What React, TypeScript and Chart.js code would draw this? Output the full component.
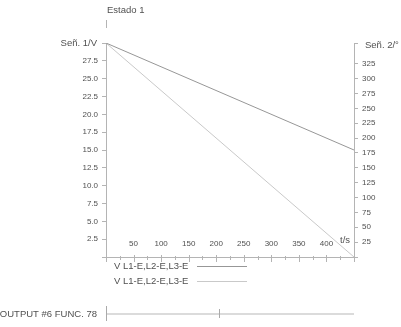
import React, { useEffect, useRef } from "react";
import { Chart, registerables } from "chart.js";

Chart.register(...registerables);

const times = [0, 450];
const signal1 = [30, 15];
const signal2 = [360, 0];
const seriesLabels = ["V L1-E,L2-E,L3-E", "V L1-E,L2-E,L3-E"];
const seriesColors = ["#979797", "#c9c9c9"];
const xTickValues = [50, 100, 150, 200, 250, 300, 350, 400];
const outputMarks = [205];
const titleText = "Estado 1";
const leftTitle = "Señ. 1/V";
const rightTitle = "Señ. 2/°";
const xTitle = "t/s";
const outputLabel = "OUTPUT #6 FUNC. 78";

const FONT = "'Liberation Sans', Arial, sans-serif";
const TEXT = "#505050";
const AXIS = "#b4b4b4";

const extras = {
  id: "extras",
  afterDraw(chart: any) {
    const ctx = chart.ctx;
    const a = chart.chartArea;
    const xs = chart.scales.x;
    ctx.save();
    // x axis line
    ctx.strokeStyle = AXIS;
    ctx.lineWidth = 1;
    ctx.beginPath();
    ctx.moveTo(a.left, a.bottom + 0.5);
    ctx.lineTo(a.right, a.bottom + 0.5);
    ctx.stroke();
    for (let v = 0; v <= 450; v += 25) {
      const px = Math.round(xs.getPixelForValue(v)) + 0.5;
      const major = v % 50 === 0;
      ctx.beginPath();
      ctx.moveTo(px, a.bottom - (major ? 2 : 1));
      ctx.lineTo(px, a.bottom + (major ? 5 : 3));
      ctx.stroke();
    }
    ctx.fillStyle = TEXT;
    ctx.font = `8px ${FONT}`;
    ctx.textAlign = "center";
    ctx.textBaseline = "middle";
    xTickValues.forEach((v) => {
      ctx.fillText(String(v), xs.getPixelForValue(v), a.bottom - 13);
    });
    ctx.font = `9.5px ${FONT}`;
    ctx.fillText(xTitle, xs.getPixelForValue(450) - 9, a.bottom - 17);
    // axis titles
    ctx.textAlign = "right";
    ctx.fillText(leftTitle, a.left - 9, a.top);
    ctx.textAlign = "left";
    ctx.fillText(rightTitle, a.right + 11, a.top + 2);
    // top title
    ctx.fillText(titleText, a.left + 1, 10);
    ctx.beginPath();
    ctx.moveTo(a.left + 0.5, 20);
    ctx.lineTo(a.left + 0.5, 28);
    ctx.stroke();
    // legend
    chart.data.datasets.forEach((ds: any, i: number) => {
      const y = a.bottom + 9 + i * 15;
      ctx.fillStyle = TEXT;
      ctx.textAlign = "left";
      ctx.fillText(ds.label, a.left + 8, y);
      ctx.strokeStyle = ds.borderColor;
      ctx.beginPath();
      ctx.moveTo(197, y + 0.5);
      ctx.lineTo(247, y + 0.5);
      ctx.stroke();
    });
    // output bar
    const oy = 314;
    ctx.fillStyle = TEXT;
    ctx.textAlign = "right";
    ctx.fillText(outputLabel, a.left - 9, oy);
    ctx.strokeStyle = "#cfcfcf";
    ctx.lineWidth = 1.5;
    ctx.beginPath();
    ctx.moveTo(a.left, oy);
    ctx.lineTo(a.right, oy);
    ctx.stroke();
    ctx.strokeStyle = "#aaa";
    ctx.lineWidth = 1;
    ctx.beginPath();
    ctx.moveTo(a.left + 0.5, oy - 8);
    ctx.lineTo(a.left + 0.5, oy + 7);
    ctx.stroke();
    outputMarks.forEach((t) => {
      const px = Math.round(xs.getPixelForValue(t)) + 0.5;
      ctx.beginPath();
      ctx.moveTo(px, oy - 5);
      ctx.lineTo(px, oy + 4);
      ctx.stroke();
    });
    ctx.restore();
  },
};

export default function App() {
  const ref = useRef<HTMLCanvasElement>(null);
  useEffect(() => {
    const chart = new Chart(ref.current as HTMLCanvasElement, {
      type: "line",
      data: {
        datasets: [
          {
            label: seriesLabels[0],
            data: times.map((t, i) => ({ x: t, y: signal1[i] })),
            borderColor: seriesColors[0],
            borderWidth: 1,
            pointRadius: 0,
            yAxisID: "y",
          },
          {
            label: seriesLabels[1],
            data: times.map((t, i) => ({ x: t, y: signal2[i] })),
            borderColor: seriesColors[1],
            borderWidth: 1,
            pointRadius: 0,
            yAxisID: "y1",
          },
        ],
      },
      options: {
        animation: false,
        responsive: false,
        layout: { padding: { left: 66, right: 17, top: 43, bottom: 70 } },
        plugins: { legend: { display: false }, tooltip: { enabled: false } },
        scales: {
          x: { type: "linear", min: 0, max: 450, display: false },
          y: {
            position: "left",
            min: 0,
            max: 30,
            afterFit: (s: any) => { s.width = 40; },
            border: { display: true, color: AXIS },
            grid: { drawOnChartArea: false, tickLength: 4, color: AXIS },
            ticks: {
              stepSize: 2.5,
              autoSkip: false,
              padding: 4,
              color: TEXT,
              font: { family: FONT, size: 8 },
              callback: (v: any) => (v === 0 || v === 30 ? "" : Number(v).toFixed(1)),
            },
          },
          y1: {
            position: "right",
            min: 0,
            max: 360,
            afterFit: (s: any) => { s.width = 30; },
            border: { display: true, color: AXIS },
            grid: { drawOnChartArea: false, tickLength: 4, color: AXIS },
            ticks: {
              stepSize: 25,
              autoSkip: false,
              padding: 4,
              color: TEXT,
              font: { family: FONT, size: 8 },
              callback: (v: any) => (v === 0 || v >= 350 ? "" : String(v)),
            },
          },
        },
      },
      plugins: [extras],
    });
    return () => chart.destroy();
  }, []);
  return (
    <div style={{ position: "fixed", left: 0, top: 0, width: 401, height: 327, background: "#fff" }}>
      <canvas ref={ref} width={401} height={327} />
    </div>
  );
}
